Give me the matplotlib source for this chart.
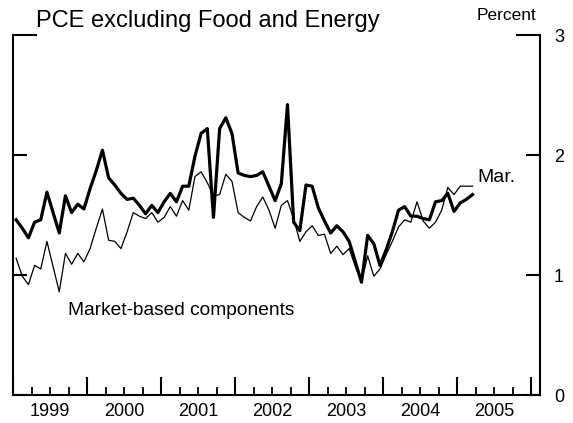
import numpy as np
import matplotlib
matplotlib.use("Agg")
import matplotlib.pyplot as plt

plt.rcParams['font.family'] = ['Liberation Sans', 'DejaVu Sans']

# monthly, Jan 1999 - Mar 2005, percent
pce_core = [1.46, 1.39, 1.31, 1.44, 1.46, 1.69, 1.52, 1.35, 1.66, 1.52, 1.59, 1.55,
            1.72, 1.87, 2.04, 1.81, 1.75, 1.68, 1.63, 1.64, 1.58, 1.51, 1.58, 1.52,
            1.61, 1.68, 1.61, 1.74, 1.74, 1.99, 2.18, 2.22, 1.48, 2.22, 2.31, 2.18,
            1.85, 1.83, 1.82, 1.83, 1.86, 1.74, 1.62, 1.76, 2.42, 1.44, 1.37, 1.75,
            1.74, 1.56, 1.45, 1.35, 1.41, 1.36, 1.28, 1.11, 0.94, 1.33, 1.26, 1.08,
            1.21, 1.36, 1.54, 1.57, 1.49, 1.49, 1.47, 1.46, 1.61, 1.62, 1.68, 1.53,
            1.60, 1.63, 1.67]
market_based = [1.14, 0.99, 0.92, 1.08, 1.05, 1.28, 1.07, 0.86, 1.18, 1.09, 1.18, 1.11,
                1.22, 1.39, 1.55, 1.29, 1.28, 1.22, 1.36, 1.52, 1.49, 1.47, 1.52, 1.44,
                1.48, 1.57, 1.49, 1.62, 1.54, 1.82, 1.86, 1.77, 1.66, 1.67, 1.84, 1.78,
                1.52, 1.48, 1.45, 1.57, 1.65, 1.54, 1.39, 1.58, 1.62, 1.47, 1.28, 1.36,
                1.41, 1.33, 1.34, 1.18, 1.24, 1.17, 1.22, 1.07, 0.94, 1.16, 0.99, 1.05,
                1.17, 1.28, 1.40, 1.46, 1.44, 1.61, 1.45, 1.39, 1.44, 1.54, 1.73, 1.67,
                1.74, 1.74, 1.74]
years = [1999, 2000, 2001, 2002, 2003, 2004, 2005]

# dates as decimal years, mid-month
t = 1999 + (np.arange(len(pce_core)) + 0.5) / 12

fig = plt.figure(figsize=(5.73, 4.23), dpi=100)
ax = fig.add_axes([13/573, (423-395)/423, 527/573, 360/423])

ax.plot(t, market_based, color='black', lw=0.9)
ax.plot(t, pce_core, color='black', lw=2.3)

ax.set_xlim(1999, 2006.12)
ax.set_ylim(0, 3)

ax.spines['top'].set_visible(False)
for s in ['left', 'right', 'bottom']:
    ax.spines[s].set_linewidth(1.5)

# x axis: year ticks, quarter minor ticks, labels mid-year
ax.set_xticks(range(1999, 2007))
ax.set_xticks(np.arange(1999, 2006.01, 0.25), minor=True)
ax.tick_params(axis='x', which='major', direction='in', length=13, width=1.5,
               labelbottom=False, top=False)
ax.tick_params(axis='x', which='minor', direction='in', length=6, width=1.3, top=False)
for y in years:
    ax.text(y + 0.5, -0.058, str(y), transform=ax.get_xaxis_transform(),
            ha='center', va='baseline', fontsize=13)

# y axis
ax.set_yticks([0, 1, 2])
ax.set_yticks([3], labels=['3'], minor=True)
ax.tick_params(axis='y', which='both', direction='in', left=True, right=True,
               labelleft=False, labelright=True, width=1.5, labelsize=13, pad=10)
ax.tick_params(axis='y', which='major', length=10)
ax.tick_params(axis='y', which='minor', length=17)

fig.text(36/573, 1 - 27/423, 'PCE excluding Food and Energy', fontsize=17,
         ha='left', va='baseline')
fig.text(536/573, 1 - 20/423, 'Percent', fontsize=12.5, ha='right', va='baseline')
ax.text(1999.74, 0.667, 'Market-based components', fontsize=13.8, ha='left', va='baseline')
ax.text(2005.28, 1.775, 'Mar.', fontsize=14, ha='left', va='baseline')

fig.savefig('out.png', dpi=100)
